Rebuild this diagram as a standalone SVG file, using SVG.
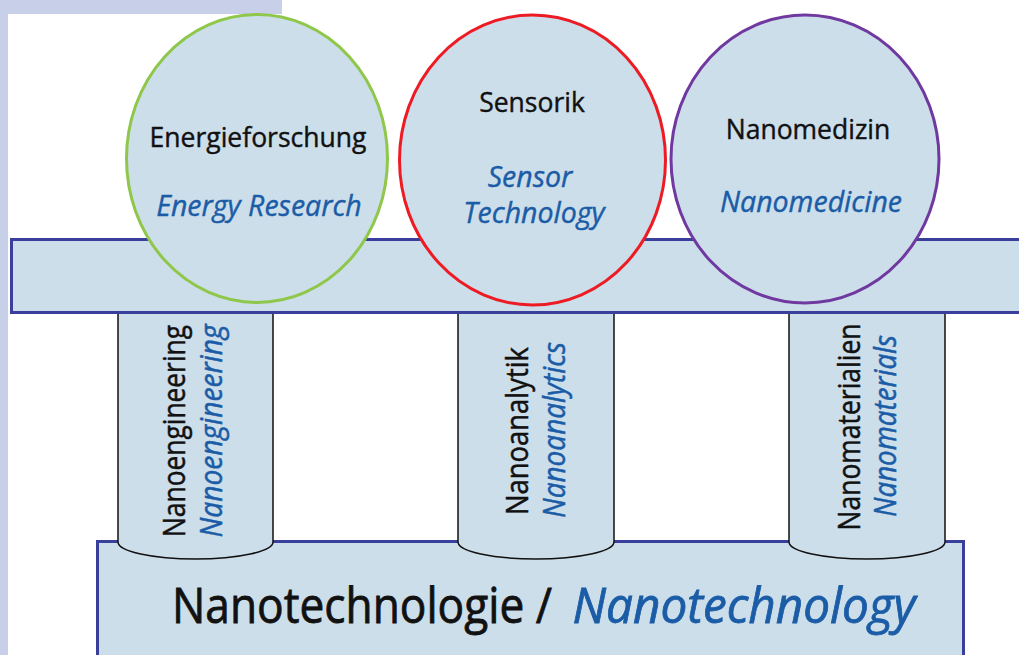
<svg xmlns="http://www.w3.org/2000/svg" width="1019" height="655" viewBox="0 0 1019 655">
<style>
.bar{fill:#cddeeb;stroke:#3b3f9c;stroke-width:3}
.col{fill:#cddeeb;stroke:#111;stroke-width:1.5}
.circ{fill:#cddeeb;stroke-width:3}
.de{font-family:"Open Sans","Noto Sans",sans-serif;fill:#111;stroke:#111;stroke-width:0.4;text-anchor:middle}
.en{font-family:"Open Sans","Noto Sans",sans-serif;fill:#1b5ca6;stroke:#1b5ca6;stroke-width:0.4;font-style:italic;text-anchor:middle}
.h{font-size:26.5px}
.hi{font-size:28.5px}
.v{font-size:31px;stroke-width:0.5}
.big{font-size:49px;stroke-width:0.8}
</style>
<rect x="0" y="0" width="282" height="14" fill="#c8cfe8"/>
<rect x="0" y="0" width="8" height="655" fill="#c8cfe8"/>
<g id="base">
<rect class="bar" x="97.5" y="541.5" width="866" height="130"/>
<text class="de big" x="362" y="623" textLength="380" lengthAdjust="spacingAndGlyphs">Nanotechnologie /</text>
<text class="en big" x="744" y="623" textLength="343" lengthAdjust="spacingAndGlyphs">Nanotechnology</text>
</g>
<g id="pillar-nanoengineering">
<path class="col" d="M118,312 V542 A77.5,17 0 0 0 273,542 V312"/>
<text class="de v" transform="translate(185,431) rotate(-90)" textLength="212" lengthAdjust="spacingAndGlyphs">Nanoengineering</text>
<text class="en v" transform="translate(222,431) rotate(-90)" textLength="213" lengthAdjust="spacingAndGlyphs">Nanoengineering</text>
</g>
<g id="pillar-nanoanalytik">
<path class="col" d="M458,312 V542 A78,17 0 0 0 614,542 V312"/>
<text class="de v" transform="translate(528,431) rotate(-90)" textLength="168" lengthAdjust="spacingAndGlyphs">Nanoanalytik</text>
<text class="en v" transform="translate(565,430) rotate(-90)" textLength="176" lengthAdjust="spacingAndGlyphs">Nanoanalytics</text>
</g>
<g id="pillar-nanomaterialien">
<path class="col" d="M789,312 V542 A78,17 0 0 0 945,542 V312"/>
<text class="de v" transform="translate(860,427) rotate(-90)" textLength="207" lengthAdjust="spacingAndGlyphs">Nanomaterialien</text>
<text class="en v" transform="translate(896,426) rotate(-90)" textLength="182" lengthAdjust="spacingAndGlyphs">Nanomaterials</text>
</g>
<g id="top-bar">
<rect class="bar" x="11.5" y="239.5" width="1020" height="73"/>
</g>
<g id="circle-energie">
<ellipse class="circ" stroke="#8fc74a" cx="257" cy="158.5" rx="130.5" ry="144"/>
<text class="de h" x="258" y="147">Energieforschung</text>
<text class="en hi" x="259" y="216">Energy Research</text>
</g>
<g id="circle-sensorik">
<ellipse class="circ" stroke="#ed1c24" cx="532.5" cy="160" rx="133" ry="145"/>
<text class="de h" x="532" y="112">Sensorik</text>
<text class="en hi" x="530" y="187">Sensor</text>
<text class="en hi" x="534" y="223">Technology</text>
</g>
<g id="circle-nanomedizin">
<ellipse class="circ" stroke="#7039a0" cx="805" cy="159" rx="134" ry="144"/>
<text class="de h" x="808" y="139">Nanomedizin</text>
<text class="en hi" x="811" y="212">Nanomedicine</text>
</g>
<g id="connectors"/>
</svg>
